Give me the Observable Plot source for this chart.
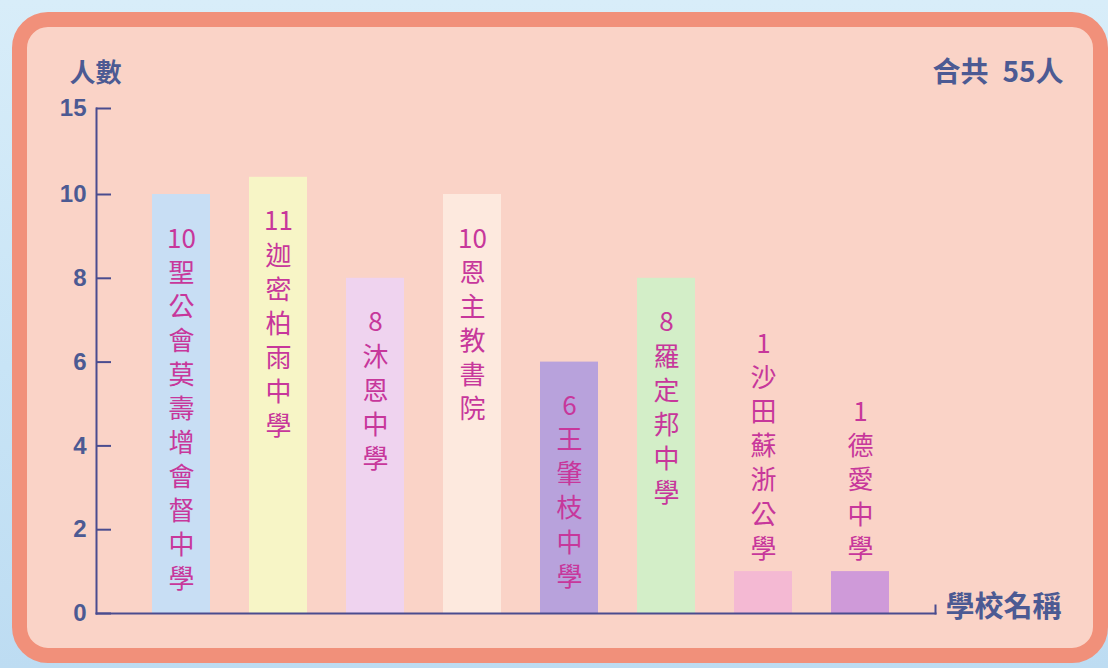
<!DOCTYPE html>
<html><head><meta charset="utf-8">
<script src="https://cdn.jsdelivr.net/npm/d3@7"></script>
<script src="https://cdn.jsdelivr.net/npm/@observablehq/plot@0.6"></script>
<style>
html,body{margin:0;padding:0;width:1108px;height:668px;overflow:hidden;}
body{background:linear-gradient(180deg,#d8edf9 0%,#c8e4f6 55%,#bddcf2 100%);position:relative;}
#panel{position:absolute;left:12px;top:12px;width:1096px;height:651px;box-sizing:border-box;border:15px solid #f1907a;border-radius:36px;background:#fad3c7;}
#chart{position:absolute;left:0;top:0;}
</style></head><body>
<div id="panel"></div>
<div id="chart"></div>
<script>
const schools = ["聖公會莫壽增會督中學","迦密柏雨中學","沐恩中學","恩主教書院","王肇枝中學","羅定邦中學","沙田蘇浙公學","德愛中學"];
const counts = [10, 11, 8, 10, 6, 8, 1, 1];
const yTicks = [0, 2, 4, 6, 8, 10, 15];
const yAxisLabel = "人數";
const xAxisLabel = "學校名稱";
const barColors = ["#c8def4","#f7f5c6","#efd3ef","#fde9de","#b8a2dc","#d3eec8","#f4b9d3","#cf9ad9"];

const data = schools.map((s, i) => ({school: s, count: counts[i]}));
const totalLabel = `合共\u2002${d3.sum(counts)}人`;
const label = d => `${d.count}\n${[...d.school].join("\n")}`;
const cjk = "'Noto Sans CJK TC', 'Noto Sans CJK SC', sans-serif";
const labelColor = "#c7379b";
const axisColor = "#4a4c8f";
const textColor = "#4c5a93";

const chart = Plot.plot({
  width: 1108, height: 668,
  marginLeft: 96, marginRight: 173, marginTop: 108, marginBottom: 55,
  x: {domain: schools, paddingInner: 0.405, paddingOuter: 0.51, align: 0.544, axis: null},
  y: {type: "linear", domain: [0, 10, 15], range: [613, 194, 108], axis: null},
  color: {domain: schools, range: barColors},
  style: {background: "transparent", overflow: "visible"},
  marks: [
    Plot.barY(data, {x: "school", y: "count", fill: "school"}),
    Plot.text(data.filter(d => d.count > 2), {x: "school", y: "count", text: label, lineAnchor: "top", dy: 29, fontSize: 26, lineHeight: 1.31, fill: labelColor, fontFamily: cjk}),
    Plot.text(data.filter(d => d.count <= 2), {x: "school", y: "count", text: label, lineAnchor: "bottom", dy: -14, fontSize: 26, lineHeight: 1.31, fill: labelColor, fontFamily: cjk}),
    Plot.frame({anchor: "left", stroke: axisColor, strokeWidth: 2, strokeLinecap: "square"}),
    Plot.frame({anchor: "bottom", stroke: axisColor, strokeWidth: 2, strokeLinecap: "square"}),
    Plot.frame({anchor: "right", insetTop: 497, stroke: axisColor, strokeWidth: 2}),
    Plot.ruleY(yTicks, {y: d => d, insetRight: 824, stroke: axisColor, strokeWidth: 2}),
    Plot.axisY({ticks: yTicks, tickSize: 0, tickPadding: 10, label: null, fontSize: 24, fontFamily: "'Liberation Sans', Arial, sans-serif", fontWeight: "bold", color: textColor}),
    Plot.text([yAxisLabel], {frameAnchor: "top-left", dy: -35, dx: -1, textAnchor: "middle", lineAnchor: "middle", fontSize: 26, fontWeight: "bold", fill: textColor, fontFamily: cjk}),
    Plot.text([totalLabel], {frameAnchor: "top-right", dx: 128, dy: -35, textAnchor: "end", lineAnchor: "middle", fontSize: 28, fontWeight: "bold", fill: textColor, fontFamily: cjk}),
    Plot.text([xAxisLabel], {frameAnchor: "bottom-right", dx: 10, dy: -6, textAnchor: "start", lineAnchor: "middle", fontSize: 29, fontWeight: "bold", fill: textColor, fontFamily: cjk})
  ]
});
document.getElementById("chart").appendChild(chart);
</script>
</body></html>
